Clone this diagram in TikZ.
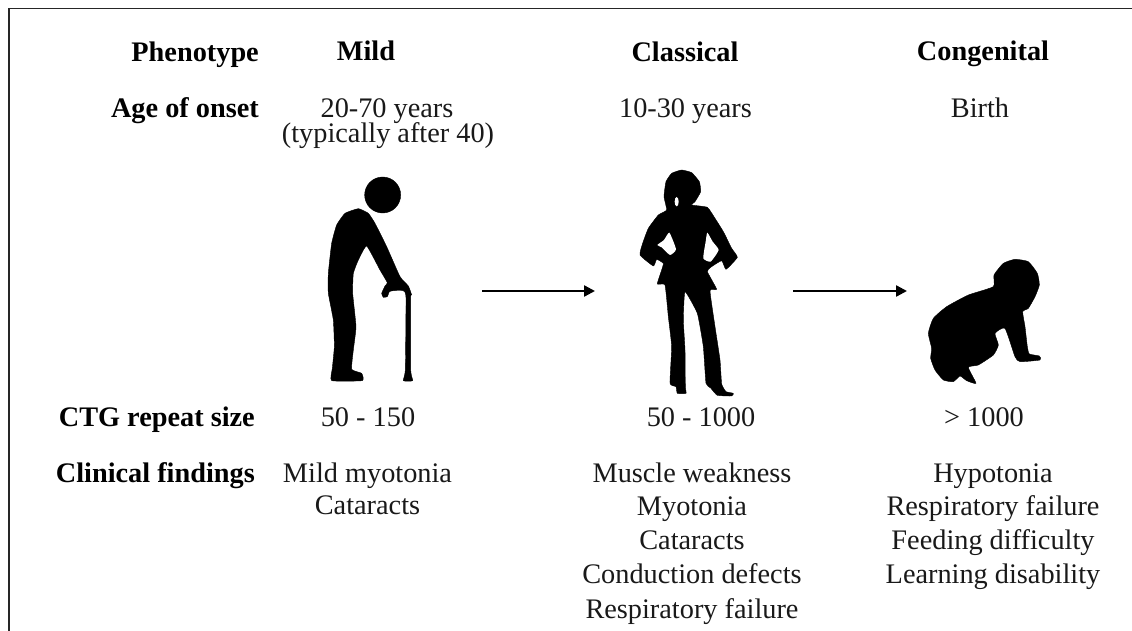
\documentclass[tikz,border=0pt]{standalone}
\usepackage{fontspec}
\setmainfont{Liberation Serif}
\usetikzlibrary{arrows.meta}
\tikzset{
 txt/.style={font=\fontsize{28.3}{30}\selectfont,align=center,inner sep=0pt,text=black!90},
 hdr/.style={txt,font=\fontsize{28.3}{30}\selectfont\bfseries,text=black},
 lab/.style={hdr,anchor=base east},
 lin/.style={txt,anchor=base},
 flow/.style={-{Stealth[length=11pt,width=11pt,inset=0pt]},line width=2.4pt},
 sil/.style={fill=black,draw=black,line width=0.4pt,line join=round},
}
\begin{document}
\begin{tikzpicture}[x=1pt,y=-1pt]
\useasboundingbox (0,0) rectangle (1132,631);
\fill[white] (0,0) rectangle (1132,631);
\coordinate (fa) at (9,631);\coordinate (fb) at (9,8.5);\coordinate (fc) at (1132,8.5);
\draw[line width=1.6pt,black!85] (fa) -- (fb) -- (fc);
% left labels
\node[lab] (l1) at (259,61.5) {Phenotype};
\node[lab] (l2) at (259,117.5) {Age of onset};
\node[lab] (l3) at (255,426) {CTG repeat size};
\node[lab] (l4) at (255,482) {Clinical findings};
% headers
\node[hdr,anchor=base] (h1) at (366,61) {Mild};
\node[hdr,anchor=base] (h2) at (685,61.5) {Classical};
\node[hdr,anchor=base] (h3) at (983,61) {Congenital};
% onset
\node[lin] (o1) at (387,117.5) {20-70 years};
\node[lin] (o1b) at (388,143) {(typically after 40)};
\node[lin] (o2) at (685.5,117.5) {10-30 years};
\node[lin] (o3) at (980,117.5) {Birth};
% repeat
\node[lin] (r1) at (368,426) {50 - 150};
\node[lin] (r2) at (701,426) {50 - 1000};
\node[lin] (r3) at (984,426) {> 1000};
% findings
\node[lin] (c1) at (367.5,482) {Mild myotonia};
\node[lin] (c2) at (367.5,514) {Cataracts};
\node[lin] (m1) at (692,482) {Muscle weakness};
\node[lin] (m2) at (692,515.5) {Myotonia};
\node[lin] (m3) at (692,549.5) {Cataracts};
\node[lin] (m4) at (692,583.5) {Conduction defects};
\node[lin] (m5) at (692,618) {Respiratory failure};
\node[lin] (n1) at (993,482) {Hypotonia};
\node[lin] (n2) at (993,515.5) {Respiratory failure};
\node[lin] (n3) at (993,549.5) {Feeding difficulty};
\node[lin] (n4) at (993,583.5) {Learning disability};
% arrows
\coordinate (a1) at (482,291);\coordinate (a2) at (595,291);
\coordinate (b1) at (793,291);\coordinate (b2) at (907,291);
\draw[flow] (a1) -- (a2);
\draw[flow] (b1) -- (b2);
% old man
\begin{scope}[shift={(300,160)},x=0.3333pt,y=-0.3333pt]
\fill[sil] (248,105) circle[radius=54];
\fill[sil] plot[smooth cycle,tension=0.25] coordinates {(95,662)(97,625)(103,560)(100,480)(85,400)(85,340)(95,250)(110,195)(135,160)(175,146)(205,160)(225,190)(260,260)(300,350)(325,378)(335,405)(332,412)(332,630)(338,662)(310,662)(316,630)(318,412)(310,392)(280,392)(268,395)(262,410)(250,412)(245,400)(255,378)(262,368)(240,330)(200,258)(175,300)(160,340)(158,400)(168,500)(160,570)(155,628)(185,640)(187,662)};
\end{scope}
% woman
\begin{scope}[shift={(620,160)},x=0.3333pt,y=-0.3333pt]
\fill[sil] plot[smooth cycle,tension=0.25] coordinates {(185,30)(215,38)(238,65)(242,95)(225,125)(215,135)(262,142)(285,175)(310,215)(335,265)(352,292)(318,328)(305,302)(272,322)(262,335)(290,388)(270,392)(285,500)(300,600)(305,672)(318,695)(340,700)(335,708)(292,706)(272,684)(258,670)(250,560)(232,460)(195,395)(190,480)(195,570)(196,680)(198,700)(172,700)(168,680)(150,670)(155,560)(145,470)(135,375)(112,372)(125,330)(130,310)(110,298)(100,318)(60,285)(68,250)(85,205)(115,165)(140,150)(132,110)(138,65)(155,40)};
\fill[white] (170,125) ellipse[x radius=6,y radius=14];
\fill[white] plot[smooth cycle,tension=0.3] coordinates {(148,218)(168,268)(150,285)(125,262)(112,255)(132,240)};
\fill[white] plot[smooth cycle,tension=0.3] coordinates {(262,218)(278,245)(296,270)(272,305)(250,295)(257,245)};
\end{scope}
% baby
\begin{scope}[shift={(910,250)},x=0.3333pt,y=-0.3333pt]
\fill[sil] plot[smooth cycle,tension=0.3] coordinates {(315,28)(355,35)(382,70)(388,105)(375,140)(355,175)(338,185)(345,230)(352,290)(358,312)(388,318)(390,330)(330,335)(315,320)(285,235)(255,250)(265,285)(250,315)(205,345)(175,352)(198,400)(170,392)(150,378)(130,395)(100,390)(75,360)(62,325)(65,295)(55,250)(70,205)(110,170)(175,135)(250,110)(252,75)(280,40)};
\end{scope}
\end{tikzpicture}
\end{document}
